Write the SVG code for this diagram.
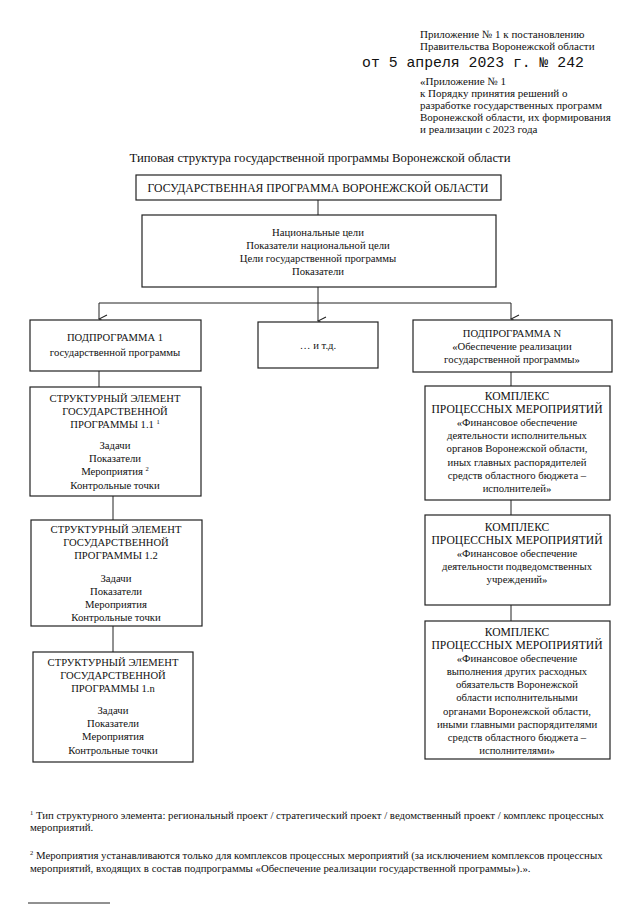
<svg xmlns="http://www.w3.org/2000/svg" width="640" height="905" viewBox="0 0 640 905">
<defs>
<style>
text{font-family:"Liberation Serif","Times New Roman",serif;fill:#111;}
.s{font-size:11px;}
.c{text-anchor:middle;font-size:10.6px;}
.k{text-anchor:middle;font-size:11.6px;}
.cs{text-anchor:middle;font-size:10.7px;}
.fn{font-size:10.8px;}
.box{fill:#fff;stroke:#222;stroke-width:1.2;}
.ln{fill:none;stroke:#222;stroke-width:1;}
.sup{font-size:6.5px;}
</style>
<marker id="ar" markerWidth="10" markerHeight="10" refX="5" refY="9" orient="auto" markerUnits="userSpaceOnUse" viewBox="0 0 10 10">
<polyline points="1,1 5,9 9,1" fill="none" stroke="#222" stroke-width="1.1"/>
</marker>
</defs>
<rect width="640" height="905" fill="#fff"/>

<g id="header">
<text class="s" x="420" y="38">Приложение № 1 к постановлению</text>
<text class="s" x="420" y="50">Правительства Воронежской области</text>
<text x="362" y="67" style="font-family:'Liberation Mono','Courier New',monospace;font-size:14.8px;">от 5 апреля 2023 г. № 242</text>
<text class="s" x="420" y="85">«Приложение № 1</text>
<text class="s" x="420" y="97">к Порядку принятия решений о</text>
<text class="s" x="420" y="109">разработке государственных программ</text>
<text class="s" x="420" y="121">Воронежской области, их формирования</text>
<text class="s" x="420" y="133">и реализации с 2023 года</text>
</g>

<g id="title">
<text x="320" y="162" text-anchor="middle" style="font-size:12.7px;">Типовая структура государственной программы Воронежской области</text>
</g>

<g id="connectors">
<line class="ln" x1="318" y1="200" x2="318" y2="215"/>
<line class="ln" x1="318" y1="287" x2="318" y2="303"/>
<line class="ln" x1="99" y1="303" x2="511" y2="303"/>
<line class="ln" x1="99" y1="303" x2="99" y2="319" marker-end="url(#ar)"/>
<line class="ln" x1="318" y1="303" x2="318" y2="321" marker-end="url(#ar)"/>
<line class="ln" x1="511" y1="303" x2="511" y2="319" marker-end="url(#ar)"/>
<line class="ln" x1="99" y1="371" x2="99" y2="387"/>
<line class="ln" x1="113" y1="496" x2="113" y2="520"/>
<line class="ln" x1="113" y1="626" x2="113" y2="652"/>
<line class="ln" x1="511" y1="372" x2="511" y2="386"/>
<line class="ln" x1="511" y1="500" x2="511" y2="515"/>
<line class="ln" x1="511" y1="605" x2="511" y2="621"/>
</g>

<g id="gp">
<rect class="box" x="136" y="175" width="365" height="25"/>
<text x="318" y="192" text-anchor="middle" style="font-size:11.7px;">ГОСУДАРСТВЕННАЯ ПРОГРАММА ВОРОНЕЖСКОЙ ОБЛАСТИ</text>
</g>

<g id="goals">
<rect class="box" x="142" y="215" width="354" height="72"/>
<text class="cs" x="318" y="236">Национальные цели</text>
<text class="cs" x="318" y="249">Показатели национальной цели</text>
<text class="cs" x="318" y="262">Цели государственной программы</text>
<text class="cs" x="318" y="275">Показатели</text>
</g>

<g id="sub1">
<rect class="box" x="30" y="320" width="171" height="51"/>
<text class="c" x="115" y="341">ПОДПРОГРАММА 1</text>
<text class="cs" x="115" y="356">государственной программы</text>
</g>

<g id="etc">
<rect class="box" x="258" y="322" width="120" height="46"/>
<text class="cs" x="318" y="349">… и т.д.</text>
</g>

<g id="subN">
<rect class="box" x="413" y="320" width="199" height="52"/>
<text class="c" x="512" y="337">ПОДПРОГРАММА N</text>
<text class="cs" x="512" y="350">«Обеспечение реализации</text>
<text class="cs" x="512" y="363">государственной программы»</text>
</g>

<g id="se11">
<rect class="box" x="30" y="387" width="171" height="109"/>
<text class="c" x="115" y="402">СТРУКТУРНЫЙ ЭЛЕМЕНТ</text>
<text class="c" x="115" y="415">ГОСУДАРСТВЕННОЙ</text>
<text class="c" x="115" y="428">ПРОГРАММЫ 1.1 <tspan class="sup" dy="-4">1</tspan></text>
<text class="cs" x="115" y="449">Задачи</text>
<text class="cs" x="115" y="462">Показатели</text>
<text class="cs" x="115" y="475">Мероприятия <tspan class="sup" dy="-4">2</tspan></text>
<text class="cs" x="115" y="489">Контрольные точки</text>
</g>

<g id="se12">
<rect class="box" x="31" y="520" width="171" height="106"/>
<text class="c" x="116" y="533">СТРУКТУРНЫЙ ЭЛЕМЕНТ</text>
<text class="c" x="116" y="546">ГОСУДАРСТВЕННОЙ</text>
<text class="c" x="116" y="559">ПРОГРАММЫ  1.2</text>
<text class="cs" x="116" y="582">Задачи</text>
<text class="cs" x="116" y="595">Показатели</text>
<text class="cs" x="116" y="608">Мероприятия</text>
<text class="cs" x="116" y="621">Контрольные точки</text>
</g>

<g id="se1n">
<rect class="box" x="33" y="652" width="160" height="110"/>
<text class="c" x="113" y="666">СТРУКТУРНЫЙ ЭЛЕМЕНТ</text>
<text class="c" x="113" y="679">ГОСУДАРСТВЕННОЙ</text>
<text class="c" x="113" y="692">ПРОГРАММЫ  1.n</text>
<text class="cs" x="113" y="714">Задачи</text>
<text class="cs" x="113" y="727">Показатели</text>
<text class="cs" x="113" y="740">Мероприятия</text>
<text class="cs" x="113" y="754">Контрольные точки</text>
</g>

<g id="kpm1">
<rect class="box" x="425" y="386" width="185" height="114"/>
<text class="k" x="517" y="400">КОМПЛЕКС</text>
<text class="k" x="517" y="413">ПРОЦЕССНЫХ МЕРОПРИЯТИЙ</text>
<text class="cs" x="517" y="426">«Финансовое обеспечение</text>
<text class="cs" x="517" y="439">деятельности исполнительных</text>
<text class="cs" x="517" y="452">органов Воронежской области,</text>
<text class="cs" x="517" y="466">иных главных распорядителей</text>
<text class="cs" x="517" y="479">средств областного бюджета –</text>
<text class="cs" x="517" y="492">исполнителей»</text>
</g>

<g id="kpm2">
<rect class="box" x="425" y="515" width="185" height="90"/>
<text class="k" x="517" y="531">КОМПЛЕКС</text>
<text class="k" x="517" y="544">ПРОЦЕССНЫХ МЕРОПРИЯТИЙ</text>
<text class="cs" x="517" y="557">«Финансовое обеспечение</text>
<text class="cs" x="517" y="570">деятельности подведомственных</text>
<text class="cs" x="517" y="583">учреждений»</text>
</g>

<g id="kpm3">
<rect class="box" x="425" y="621" width="185" height="138"/>
<text class="k" x="517" y="636">КОМПЛЕКС</text>
<text class="k" x="517" y="649">ПРОЦЕССНЫХ МЕРОПРИЯТИЙ</text>
<text class="cs" x="517" y="662">«Финансовое обеспечение</text>
<text class="cs" x="517" y="675">выполнения других расходных</text>
<text class="cs" x="517" y="688">обязательств Воронежской</text>
<text class="cs" x="517" y="701">области исполнительными</text>
<text class="cs" x="517" y="715">органами Воронежской области,</text>
<text class="cs" x="517" y="728">иными главными распорядителями</text>
<text class="cs" x="517" y="741">средств областного бюджета –</text>
<text class="cs" x="517" y="754">исполнителями»</text>
</g>

<g id="footnotes">
<text class="fn" x="30" y="819"><tspan class="sup" dy="-4">1</tspan><tspan dy="4"> Тип структурного элемента: региональный проект / стратегический проект / ведомственный проект / комплекс процессных</tspan></text>
<text class="fn" x="30" y="831">мероприятий.</text>
<text class="fn" x="30" y="859"><tspan class="sup" dy="-4">2</tspan><tspan dy="4"> Мероприятия устанавливаются только для комплексов процессных мероприятий (за исключением комплексов процессных</tspan></text>
<text class="fn" x="30" y="872">мероприятий, входящих в состав подпрограммы «Обеспечение реализации государственной программы»).».</text>
<line class="ln" x1="28" y1="903" x2="110" y2="903"/>
</g>
</svg>
